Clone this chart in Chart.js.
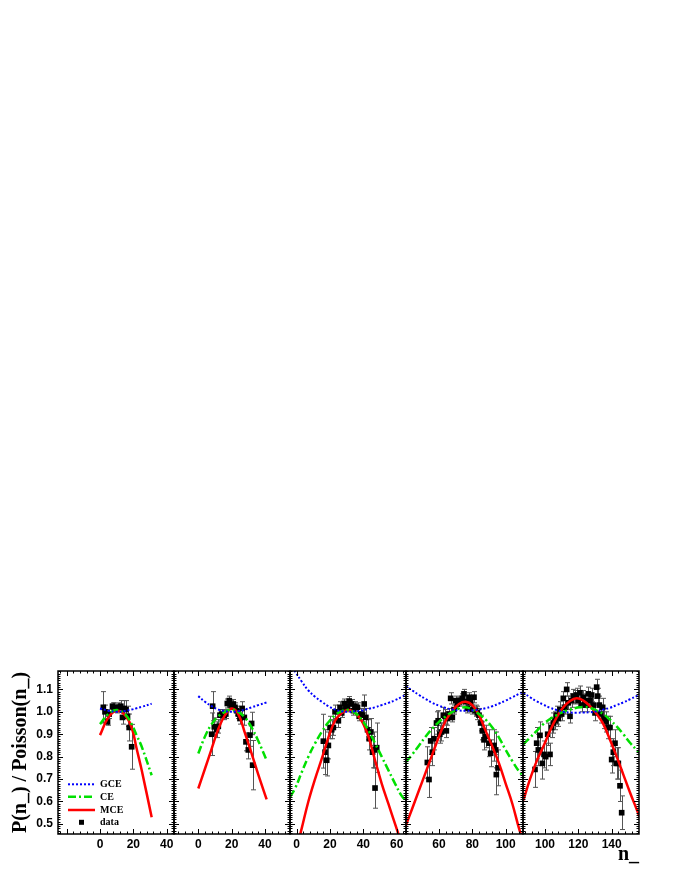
<!DOCTYPE html>
<html>
<head>
<meta charset="utf-8">
<script src="https://cdn.jsdelivr.net/npm/chart.js@4.4.1/dist/chart.umd.min.js"></script>
<style>
  html, body { margin: 0; padding: 0; background: #fff; }
  #wrap { position: relative; width: 680px; height: 880px; overflow: hidden; }
  #wrap canvas { position: absolute; top: 660px; }
</style>
</head>
<body>
<div id="wrap">
  <canvas id="p1"></canvas>
  <canvas id="p2"></canvas>
  <canvas id="p3"></canvas>
  <canvas id="p4"></canvas>
  <canvas id="p5"></canvas>
</div>
<script>
// y axis (shared)
const yTicks = [0.5, 0.6, 0.7, 0.8, 0.9, 1.0, 1.1];

// panel 1
const p1Ticks = [0, 20, 40];
const p1CurveX = [0, 5, 10, 15, 19, 22, 25, 31];
const p1Gce = [1.015, 1.005, 1.0, 1.004, 1.01, 1.016, 1.022, 1.036];
const p1Ce = [0.945, 0.99, 1.008, 0.99, 0.945, 0.895, 0.845, 0.717];
const p1Mce = [0.896, 0.975, 1.005, 0.985, 0.93, 0.835, 0.74, 0.53];
const p1X = [2, 3, 4.5, 5.5, 7.5, 8.5, 10, 11.5, 12.5, 13.5, 14.5, 15.5, 16.5, 17.5, 19];
const p1Y = [1.02, 1.0, 0.955, 0.99, 1.025, 1.02, 1.015, 1.02, 1.025, 0.975, 1.015, 1.01, 0.98, 0.93, 0.844];
const p1Err = [0.07, 0.03, 0.015, 0.02, 0.015, 0.02, 0.02, 0.02, 0.025, 0.03, 0.035, 0.04, 0.045, 0.06, 0.1];

// panel 2
const p2Ticks = [0, 20, 40];
const p2CurveX = [0, 4, 8, 12, 16, 20, 24, 28, 32, 36, 41];
const p2Gce = [1.07, 1.045, 1.025, 1.01, 1.003, 1.0, 1.003, 1.01, 1.02, 1.03, 1.042];
const p2Ce = [0.814, 0.89, 0.945, 0.98, 1.0, 1.01, 1.0, 0.975, 0.93, 0.87, 0.784];
const p2Mce = [0.658, 0.746, 0.835, 0.923, 0.985, 1.015, 0.99, 0.905, 0.814, 0.72, 0.609];
const p2X = [8, 8.6, 9.6, 11, 12, 13, 14, 15.5, 16.5, 17.4, 18.6, 19.6, 21, 22, 23, 24, 25, 26.3, 27.6, 28.6, 30, 31, 32, 32.6];
const p2Y = [0.9, 1.025, 0.933, 0.92, 0.935, 0.985, 0.99, 0.985, 0.99, 1.037, 1.05, 1.03, 1.035, 1.02, 1.005, 0.99, 0.97, 1.015, 0.975, 0.866, 0.83, 0.896, 0.948, 0.762];
const p2Err = [0.095, 0.065, 0.04, 0.035, 0.03, 0.025, 0.02, 0.02, 0.02, 0.02, 0.02, 0.02, 0.02, 0.02, 0.02, 0.02, 0.025, 0.03, 0.035, 0.04, 0.04, 0.05, 0.05, 0.11];

// panel 3
const p3Ticks = [0, 20, 40, 60];
const p3CurveX = [-4, -1, 3, 7, 11, 15, 19, 23, 27, 31, 35, 39, 43, 47, 51, 55, 59, 63, 66];
const p3Gce = [1.215, 1.18, 1.135, 1.095, 1.067, 1.045, 1.025, 1.01, 1.002, 1.0, 1.002, 1.006, 1.013, 1.02, 1.03, 1.04, 1.052, 1.066, 1.078];
const p3Ce = [0.62, 0.658, 0.73, 0.8, 0.859, 0.91, 0.953, 0.985, 1.003, 1.008, 0.995, 0.965, 0.918, 0.86, 0.8, 0.74, 0.68, 0.625, 0.6];
const p3Mce = [0.27, 0.36, 0.48, 0.6, 0.7, 0.79, 0.885, 0.96, 0.995, 1.008, 0.995, 0.96, 0.89, 0.784, 0.68, 0.59, 0.5, 0.41, 0.34];
const p3X = [16, 17, 18, 19, 20, 21, 22, 23, 25, 26, 27, 28.5, 29.5, 30.5, 31.5, 33, 34, 35, 36.5, 37.5, 38.5, 39.5, 40.5, 41.5, 42.5, 43.5, 44.5, 45.5, 46.5, 47, 48];
const p3Y = [0.869, 0.82, 0.784, 0.85, 0.93, 0.92, 0.93, 1.0, 0.96, 1.02, 0.995, 1.037, 1.02, 1.025, 1.048, 1.035, 1.005, 1.025, 1.02, 0.98, 0.99, 0.985, 1.035, 0.975, 0.92, 0.88, 0.91, 0.82, 0.83, 0.66, 0.84];
const p3Err = [0.12, 0.1, 0.07, 0.06, 0.05, 0.04, 0.035, 0.03, 0.03, 0.025, 0.02, 0.02, 0.02, 0.02, 0.02, 0.02, 0.02, 0.02, 0.02, 0.02, 0.025, 0.03, 0.04, 0.04, 0.045, 0.05, 0.06, 0.07, 0.08, 0.09, 0.11];

// panel 4
const p4Ticks = [60, 80, 100];
const p4CurveX = [40, 44, 48, 52, 56, 60, 64, 68, 72, 76, 80, 84, 88, 92, 96, 100, 104, 108, 111];
const p4Gce = [1.115, 1.095, 1.075, 1.057, 1.04, 1.027, 1.017, 1.01, 1.006, 1.005, 1.006, 1.01, 1.016, 1.025, 1.037, 1.05, 1.065, 1.08, 1.092];
const p4Ce = [0.775, 0.81, 0.85, 0.89, 0.925, 0.955, 0.98, 1.0, 1.015, 1.02, 1.01, 0.99, 0.965, 0.93, 0.885, 0.83, 0.78, 0.735, 0.71];
const p4Mce = [0.49, 0.57, 0.65, 0.73, 0.81, 0.89, 0.96, 1.005, 1.035, 1.045, 1.03, 0.985, 0.915, 0.845, 0.77, 0.68, 0.59, 0.48, 0.41];
const p4X = [53, 54, 55, 56, 57, 58.5, 59.5, 60.5, 61.5, 62.6, 63.6, 64.4, 65, 66, 67, 68, 69, 70, 71, 72, 73, 74, 75, 76, 77, 78, 79, 80, 81, 82, 83, 84, 85, 86, 87, 88, 90, 91, 93, 94, 94.4, 95.4];
const p4Y = [0.774, 0.698, 0.87, 0.82, 0.88, 0.95, 0.96, 0.9, 0.91, 0.985, 0.98, 0.915, 0.97, 0.99, 1.06, 0.975, 1.01, 1.05, 1.035, 1.045, 1.05, 1.06, 1.08, 1.045, 1.015, 1.065, 1.04, 1.01, 1.065, 1.005, 0.995, 0.985, 0.95, 0.915, 0.875, 0.89, 0.86, 0.815, 0.85, 0.83, 0.72, 0.75];
const p4Err = [0.07, 0.08, 0.06, 0.06, 0.05, 0.05, 0.045, 0.04, 0.04, 0.035, 0.03, 0.03, 0.03, 0.025, 0.025, 0.02, 0.02, 0.02, 0.02, 0.02, 0.02, 0.02, 0.02, 0.02, 0.02, 0.02, 0.02, 0.02, 0.025, 0.025, 0.03, 0.03, 0.035, 0.04, 0.045, 0.05, 0.06, 0.06, 0.07, 0.08, 0.09, 0.08];

// panel 5
const p5Ticks = [100, 120, 140];
const p5CurveX = [87, 91, 95, 99, 103, 107, 111, 115, 119, 123, 127, 131, 135, 139, 143, 147, 151, 155, 157];
const p5Gce = [1.085, 1.065, 1.047, 1.032, 1.018, 1.008, 1.0, 0.997, 0.996, 0.997, 0.998, 1.002, 1.01, 1.018, 1.03, 1.042, 1.056, 1.07, 1.078];
const p5Ce = [0.855, 0.885, 0.915, 0.945, 0.968, 0.985, 1.0, 1.01, 1.018, 1.022, 1.018, 1.005, 0.99, 0.965, 0.935, 0.9, 0.862, 0.83, 0.815];
const p5Mce = [0.605, 0.7, 0.78, 0.845, 0.915, 0.975, 1.02, 1.048, 1.06, 1.05, 1.025, 0.99, 0.945, 0.875, 0.8, 0.72, 0.64, 0.565, 0.525];
const p5X = [94, 95, 96, 97, 98.4, 99.4, 100.4, 101.6, 103, 104, 105, 106, 107, 108, 109, 110, 111, 112, 113, 114, 115, 116, 117, 118, 119, 120, 121, 122, 123, 124, 125, 126, 127, 128, 129, 130, 131, 131.6, 132.6, 133.4, 134.6, 135.4, 136.6, 137.6, 139, 140, 141, 142, 143, 144, 145, 146];
const p5Y = [0.743, 0.86, 0.83, 0.895, 0.77, 0.81, 0.8, 0.9, 0.81, 0.93, 0.95, 0.96, 0.985, 0.97, 1.01, 0.99, 1.06, 1.02, 1.1, 1.04, 0.98, 1.05, 1.07, 1.065, 1.075, 1.05, 1.085, 1.03, 1.065, 1.05, 1.03, 1.08, 1.05, 1.075, 1.03, 0.995, 1.11, 1.07, 1.03, 0.99, 1.02, 0.97, 0.955, 0.93, 0.93, 0.787, 0.82, 0.86, 0.77, 0.77, 0.67, 0.55];
const p5Err = [0.08, 0.07, 0.07, 0.06, 0.07, 0.06, 0.06, 0.05, 0.05, 0.045, 0.045, 0.04, 0.04, 0.035, 0.035,
  0.03, 0.03, 0.03, 0.03, 0.03, 0.03, 0.03, 0.03, 0.03, 0.03, 0.03, 0.03, 0.03, 0.03, 0.03, 0.03, 0.03, 0.03, 0.03, 0.03,
  0.035, 0.035, 0.035, 0.04, 0.04, 0.04, 0.045, 0.045, 0.05, 0.05, 0.06, 0.06, 0.06, 0.07, 0.07, 0.07, 0.075];

const labels = ['GCE', 'CE', 'MCE', 'data'];

// layout
const edges = [58, 174, 290, 406, 523, 639];
const pxPerUnit = 116 / 69.6;
const panels = [
  { id: 'p1', origin: [0, 100], ticks: p1Ticks, cx: p1CurveX, gce: p1Gce, ce: p1Ce, mce: p1Mce, x: p1X, y: p1Y, err: p1Err },
  { id: 'p2', origin: [0, 198.3], ticks: p2Ticks, cx: p2CurveX, gce: p2Gce, ce: p2Ce, mce: p2Mce, x: p2X, y: p2Y, err: p2Err },
  { id: 'p3', origin: [0, 296.7], ticks: p3Ticks, cx: p3CurveX, gce: p3Gce, ce: p3Ce, mce: p3Mce, x: p3X, y: p3Y, err: p3Err },
  { id: 'p4', origin: [60, 439], ticks: p4Ticks, cx: p4CurveX, gce: p4Gce, ce: p4Ce, mce: p4Mce, x: p4X, y: p4Y, err: p4Err },
  { id: 'p5', origin: [100, 545], ticks: p5Ticks, cx: p5CurveX, gce: p5Gce, ce: p5Ce, mce: p5Mce, x: p5X, y: p5Y, err: p5Err },
];

Chart.defaults.font.family = '"Liberation Sans", Arial, sans-serif';
Chart.defaults.font.size = 12;
Chart.defaults.font.weight = 'bold';
Chart.defaults.color = '#000';

function seg(ctx, x1, y1, x2, y2) {
  ctx.beginPath();
  ctx.moveTo(x1, y1);
  ctx.lineTo(x2, y2);
  ctx.stroke();
}

// vertical error bars under the markers
const errorBars = {
  id: 'errorBars',
  beforeDatasetsDraw(chart) {
    const { ctx, chartArea: a, scales: { x, y } } = chart;
    ctx.save();
    ctx.beginPath();
    ctx.rect(a.left, a.top, a.width, a.height);
    ctx.clip();
    ctx.strokeStyle = '#555';
    ctx.lineWidth = 1;
    chart.data.datasets.forEach(ds => {
      if (!ds.errors) return;
      ds.data.forEach((p, i) => {
        const px = Math.round(x.getPixelForValue(p.x)) + 0.5;
        const lo = y.getPixelForValue(p.y - ds.errors[i]);
        const hi = y.getPixelForValue(p.y + ds.errors[i]);
        seg(ctx, px, lo, px, hi);
        seg(ctx, px - 2.5, lo, px + 2.5, lo);
        seg(ctx, px - 2.5, hi, px + 2.5, hi);
      });
    });
    ctx.restore();
  }
};

// frame with inward ticks on all four sides
const frame = {
  id: 'frame',
  afterDraw(chart) {
    const { ctx, chartArea: a, scales: { x, y } } = chart;
    ctx.save();
    ctx.strokeStyle = '#000';
    ctx.lineWidth = 1;
    for (let v = Math.ceil(x.min / 4) * 4; v <= x.max; v += 4) {
      const px = Math.round(x.getPixelForValue(v)) + 0.5;
      const len = v % 20 === 0 ? 5 : 2.5;
      seg(ctx, px, a.bottom, px, a.bottom - len);
      seg(ctx, px, a.top, px, a.top + len);
    }
    for (let k = Math.ceil(y.min * 100); k <= y.max * 100; k++) {
      const py = Math.round(y.getPixelForValue(k / 100)) + 0.5;
      const len = k % 10 === 0 ? 5 : 2.5;
      seg(ctx, a.left, py, a.left + len, py);
      seg(ctx, a.right, py, a.right - len, py);
    }
    ctx.lineWidth = 1.5;
    ctx.strokeRect(a.left, a.top, a.width, a.height);
    ctx.restore();
  }
};

// legend box inside the first panel
const legendBox = {
  id: 'legendBox',
  afterDraw(chart) {
    const { ctx, chartArea: a } = chart;
    const rows = [49.7, 37.3, 24, 11.7];
    chart.data.datasets.forEach((ds, i) => {
      const yy = a.bottom - rows[i];
      ctx.save();
      if (ds.showLine === false) {
        ctx.fillStyle = '#000';
        ctx.fillRect(a.left + 21, yy - 2.5, 5, 5);
      } else {
        ctx.strokeStyle = ds.borderColor;
        ctx.lineWidth = ds.borderWidth;
        ctx.setLineDash(ds.borderDash || []);
        seg(ctx, a.left + 10, yy, a.left + 37, yy);
      }
      ctx.setLineDash([]);
      ctx.fillStyle = '#000';
      ctx.font = 'bold 10px "Liberation Serif", "Times New Roman", serif';
      ctx.textBaseline = 'middle';
      ctx.fillText(ds.label, a.left + 42, yy + 0.5);
      ctx.restore();
    });
  }
};

const pairs = (xs, ys) => xs.map((v, i) => ({ x: v, y: ys[i] }));

panels.forEach((p, i) => {
  const left = edges[i], right = edges[i + 1];
  const canvasLeft = i === 0 ? 0 : left - 3;
  const width = right + 3 - canvasLeft;
  const cv = document.getElementById(p.id);
  cv.width = width;
  cv.height = 220;
  cv.style.left = canvasLeft + 'px';

  const xMin = p.origin[0] - (p.origin[1] - left) / pxPerUnit;
  const xMax = p.origin[0] + (right - p.origin[1]) / pxPerUnit;

  const curve = (label, ys, color, width, dash, order) => ({
    label, data: pairs(p.cx, ys), borderColor: color, borderWidth: width, borderDash: dash,
    pointRadius: 0, tension: 0.4, fill: false, order
  });

  new Chart(cv, {
    type: 'line',
    data: {
      datasets: [
        curve(labels[0], p.gce, '#0000ff', 2, [2, 2], 1),
        curve(labels[1], p.ce, '#00e000', 2.5, [8, 3, 2, 3], 2),
        curve(labels[2], p.mce, '#ff0000', 2.5, [], 3),
        {
          label: labels[3], data: pairs(p.x, p.y), errors: p.err, showLine: false,
          pointStyle: 'rect', pointRadius: 4, pointBorderWidth: 0,
          pointBackgroundColor: '#000', borderColor: '#000', order: 10
        }
      ]
    },
    options: {
      responsive: false,
      animation: false,
      events: [],
      layout: { autoPadding: false, padding: { left: left - canvasLeft - (i === 0 ? 58 : 0), right: 3, top: 11, bottom: 0 } },
      plugins: { legend: { display: false }, tooltip: { enabled: false } },
      scales: {
        x: {
          type: 'linear', min: xMin, max: xMax,
          grid: { display: false, drawTicks: false },
          border: { display: false },
          afterBuildTicks: s => { s.ticks = p.ticks.map(v => ({ value: v })); },
          afterFit: s => { s.height = 46; s.paddingLeft = 0; s.paddingRight = 0; },
          ticks: { padding: 3, autoSkip: false, maxRotation: 0, callback: v => String(v) },
          title: {
            display: i === 4, text: 'n_', align: 'end',
            font: { family: '"Liberation Serif", "Times New Roman", serif', size: 20, weight: 'bold' },
            padding: { top: 0, bottom: 13 }
          }
        },
        y: {
          type: 'linear', min: 0.455, max: 1.182, display: i === 0,
          grid: { display: false, drawTicks: false },
          border: { display: false },
          afterBuildTicks: s => { s.ticks = yTicks.map(v => ({ value: v })); },
          afterFit: s => { if (i === 0) s.width = 58; s.paddingTop = 0; s.paddingBottom = 0; },
          ticks: { padding: 5, callback: v => v.toFixed(1) },
          title: {
            display: true, text: 'P(n_) / Poisson(n_)',
            font: { family: '"Liberation Serif", "Times New Roman", serif', size: 20, weight: 'bold' },
            padding: { top: 9, bottom: 0 }
          }
        }
      }
    },
    plugins: i === 0 ? [errorBars, frame, legendBox] : [errorBars, frame]
  });
});
</script>
</body>
</html>
